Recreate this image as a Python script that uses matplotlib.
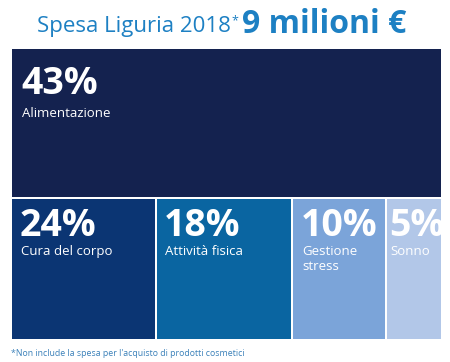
import matplotlib.pyplot as plt

# Spending shares, Liguria 2018 (total 9 million euro)
categories = ["Alimentazione", "Cura del corpo", "Attività fisica", "Gestione\nstress", "Sonno"]
shares = [43, 24, 18, 10, 5]
labels = [f"{s}%" for s in shares]

colors = ["#14224f", "#0b3573", "#0a65a1", "#7ba4d9", "#b2c7e8"]

# layout (in pixels of the 450x362 canvas)
left, right = 12, 441
top_y, top_h = 49, 148
bot_y, bot_h = 199, 140
gap = 2
box_widths = [143, 134, 92, 54]   # bottom row, stylised (not proportional)

fig = plt.figure(figsize=(4.5, 3.62), dpi=100)
ax = fig.add_axes([0, 0, 1, 1])
ax.set_xlim(0, 450)
ax.set_ylim(362, 0)
ax.axis("off")

font = "Open Sans"

# top block: first category
ax.bar(left, top_h, width=right - left, bottom=top_y, align="edge", color=colors[0])
ax.text(left + 9, top_y + 45, labels[0], fontsize=27, fontweight="bold",
        color="white", family=font, va="baseline")
ax.text(left + 10, top_y + 68, categories[0], fontsize=9.5,
        color="white", family=font, va="baseline")

# bottom row
x0 = left
pads = [8, 7, 8, 2]
for i in range(1, len(shares)):
    w = box_widths[i - 1]
    ax.bar(x0, bot_h, width=w, bottom=bot_y, align="edge", color=colors[i])
    ax.text(x0 + pads[i - 1], bot_y + 37, labels[i], fontsize=27, fontweight="bold",
            color="white", family=font, va="baseline")
    ax.text(x0 + pads[i - 1] + 1, bot_y + 46, categories[i], fontsize=9.5,
            color="white", family=font, va="top", linespacing=1.25,
            multialignment="left")
    x0 += w + gap

# title, pieces chained left to right
title_color = "#1d80c3"
fig.canvas.draw()
renderer = fig.canvas.get_renderer()
inv = ax.transData.inverted()


def right_edge(t):
    bb = t.get_window_extent(renderer)
    return inv.transform((bb.x1, bb.y0))[0]


t1 = ax.text(37, 32, "Spesa Liguria 2018", fontsize=16, color=title_color,
             family=font, va="baseline")
t2 = ax.text(right_edge(t1) + 1, 24, "*", fontsize=9, color=title_color,
             family=font, va="baseline")
ax.text(right_edge(t2) + 3, 33, "9 milioni €", fontsize=23, fontweight="bold",
        color=title_color, family=font, va="baseline")

# footnote
ax.text(11, 356, "*Non include la spesa per l'acquisto di prodotti cosmetici",
        fontsize=6.3, color="#3a80b9", family=font, va="baseline")

fig.savefig("out.png", dpi=100)
